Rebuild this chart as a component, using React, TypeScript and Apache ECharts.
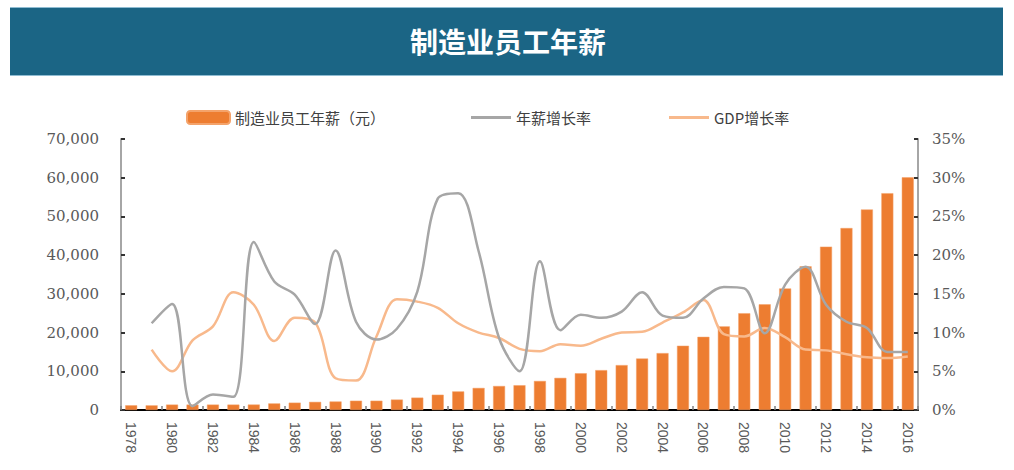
import React, { useEffect, useRef } from "react";
import * as echarts from "echarts";

const years = [
  "1978", "1979", "1980", "1981", "1982", "1983", "1984", "1985", "1986", "1987",
  "1988", "1989", "1990", "1991", "1992", "1993", "1994", "1995", "1996", "1997",
  "1998", "1999", "2000", "2001", "2002", "2003", "2004", "2005", "2006", "2007",
  "2008", "2009", "2010", "2011", "2012", "2013", "2014", "2015", "2016",
];

const wage = [
  1200, 1200, 1400, 1400, 1400, 1400, 1400, 1700, 1900, 2100,
  2200, 2400, 2400, 2700, 3200, 3950, 4800, 5700, 6200, 6400,
  7500, 8300, 9500, 10300, 11600, 13300, 14700, 16600, 18900, 21600,
  25000, 27300, 31400, 37100, 42200, 47000, 51800, 56000, 60100,
];

const wageGrowth = [
  null, 11.2, 13.7, 0.5, 2.0, 1.7, 21.7, 16.6, 14.9, 11.1,
  20.6, 11.4, 9.1, 10.5, 15.3, 27.3, 28.0, 20.5, 9.3, 5.0,
  19.2, 10.3, 12.3, 11.9, 12.7, 15.2, 12.2, 11.9, 14.4, 15.9,
  15.7, 9.9, 16.2, 18.5, 13.6, 11.4, 10.6, 7.5, 7.5,
];

const gdpGrowth = [
  null, 7.8, 5.0, 9.0, 10.8, 15.2, 13.6, 8.9, 11.9, 11.3,
  4.1, 3.8, 9.5, 14.3, 14.0, 13.2, 11.2, 10.0, 9.3, 7.9,
  7.6, 8.5, 8.3, 9.2, 10.0, 10.1, 11.3, 12.6, 14.2, 9.8,
  9.5, 10.6, 9.4, 7.8, 7.7, 7.2, 6.8, 6.7, 6.9,
];

const titleText = "制造业员工年薪";
const nameWage = "制造业员工年薪（元）";
const nameWageGrowth = "年薪增长率";
const nameGdp = "GDP增长率";

const serif = "'DejaVu Serif', 'Liberation Serif', serif";
const cjk = "'Noto Sans CJK SC', sans-serif";

export default function App() {
  const ref = useRef<HTMLDivElement>(null);

  useEffect(() => {
    document.body.style.margin = "0";
    const chart = echarts.init(ref.current!, null, { renderer: "svg" });
    const legendText = { fontFamily: cjk, fontSize: 15, color: "#404040" };
    chart.setOption({
      animation: false,
      backgroundColor: "#ffffff",
      graphic: [
        {
          type: "rect",
          shape: { x: 10, y: 7, width: 993, height: 69 },
          style: { fill: "#1b6585" },
          z: 0,
        },
        {
          type: "line",
          shape: { x1: 10, y1: 7.5, x2: 1003, y2: 7.5 },
          style: { stroke: "#8fbcd2", lineWidth: 1 },
        },
        {
          type: "line",
          shape: { x1: 10, y1: 75.5, x2: 1003, y2: 75.5 },
          style: { stroke: "#8fbcd2", lineWidth: 1 },
        },
        {
          type: "text",
          x: 508,
          y: 41,
          style: {
            text: titleText,
            fill: "#ffffff",
            font: "bold 28px 'Noto Sans CJK SC', sans-serif",
            textAlign: "center",
            textVerticalAlign: "middle",
          },
          z: 10,
        },
      ],
      legend: [
        {
          data: [nameWage],
          left: 186,
          top: 110,
          padding: 0,
          itemWidth: 43,
          itemHeight: 13,
          textStyle: legendText,
        },
        {
          data: [{ name: nameWageGrowth, icon: "rect" }],
          left: 471,
          top: 110,
          padding: 0,
          itemWidth: 40,
          itemHeight: 3,
          textStyle: legendText,
        },
        {
          data: [{ name: nameGdp, icon: "rect" }],
          left: 669,
          top: 110,
          padding: 0,
          itemWidth: 40,
          itemHeight: 3,
          textStyle: legendText,
        },
      ],
      grid: { left: 121, right: 96, top: 139, bottom: 60, containLabel: false },
      xAxis: {
        type: "category",
        data: years,
        boundaryGap: true,
        axisLine: { lineStyle: { color: "#000000", width: 2 } },
        axisTick: {
          show: true,
          inside: true,
          interval: 1,
          length: 4,
          lineStyle: { color: "#7f7f7f", width: 1.5 },
        },
        axisLabel: {
          interval: 1,
          rotate: -90,
          margin: 12,
          fontFamily: "'Liberation Sans', sans-serif",
          fontSize: 14,
          color: "#595959",
        },
      },
      yAxis: [
        {
          type: "value",
          min: 0,
          max: 70000,
          interval: 10000,
          splitLine: { show: false },
          axisLine: { show: true, lineStyle: { color: "#a6a6a6", width: 2 } },
          axisTick: { show: true, inside: true, length: 4, lineStyle: { color: "#333333", width: 2 } },
          axisLabel: {
            margin: 22,
            fontFamily: serif,
            fontSize: 15,
            color: "#595959",
            formatter: (v: number) => v.toLocaleString("en-US"),
          },
        },
        {
          type: "value",
          min: 0,
          max: 35,
          interval: 5,
          position: "right",
          splitLine: { show: false },
          axisLine: { show: true, lineStyle: { color: "#a6a6a6", width: 2 } },
          axisTick: { show: true, inside: true, length: 4, lineStyle: { color: "#333333", width: 2 } },
          axisLabel: {
            margin: 14,
            fontFamily: serif,
            fontSize: 15,
            color: "#595959",
            formatter: "{value}%",
          },
        },
      ],
      series: [
        {
          name: nameWage,
          type: "bar",
          data: wage,
          yAxisIndex: 0,
          barWidth: 12,
          itemStyle: { color: "#ed7d31", borderColor: "#f4a36b", borderWidth: 0.5 },
          z: 1,
        },
        {
          name: nameWageGrowth,
          type: "line",
          data: wageGrowth,
          yAxisIndex: 1,
          smooth: 0.35,
          symbol: "none",
          lineStyle: { color: "#a6a6a6", width: 2.5 },
          itemStyle: { color: "#a6a6a6" },
          z: 3,
        },
        {
          name: nameGdp,
          type: "line",
          data: gdpGrowth,
          yAxisIndex: 1,
          smooth: 0.35,
          symbol: "none",
          lineStyle: { color: "#f8b98c", width: 2.5 },
          itemStyle: { color: "#f8b98c" },
          z: 2,
        },
      ],
    });
    return () => chart.dispose();
  }, []);

  return <div ref={ref} style={{ width: 1014, height: 470 }} />;
}
